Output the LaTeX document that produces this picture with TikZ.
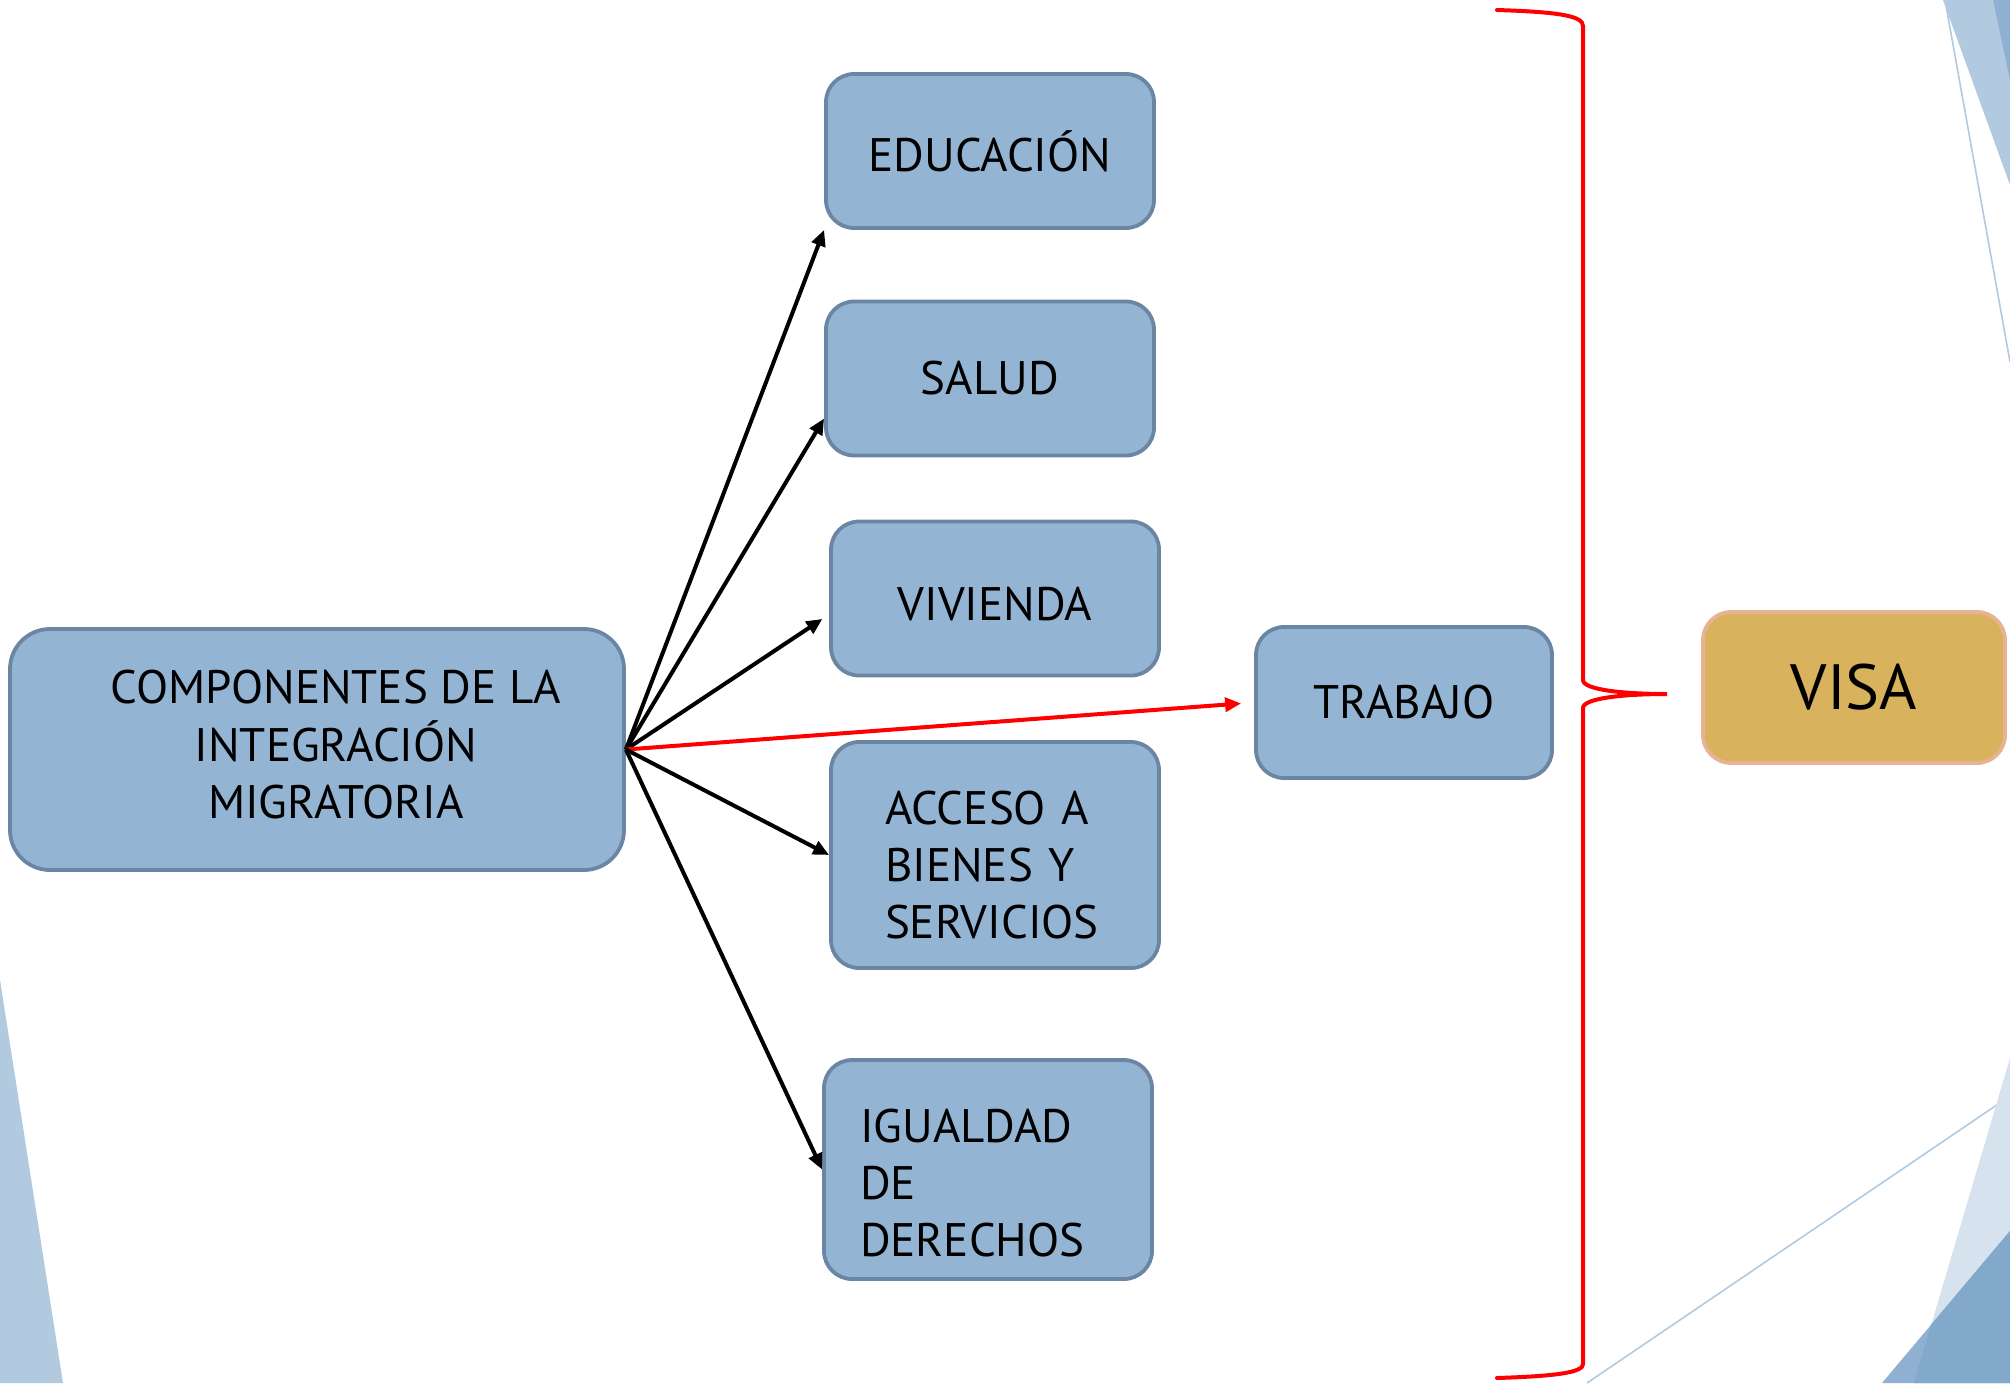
\documentclass[tikz,border=0pt]{standalone}
\usepackage{fontspec}
\setmainfont{PT Sans}
\usetikzlibrary{arrows.meta}
\definecolor{cajafondo}{HTML}{94B4D4}
\definecolor{cajaborde}{HTML}{6B86A2}
\definecolor{visafondo}{HTML}{D8B25C}
\definecolor{visaborde}{HTML}{E8B394}
\definecolor{fondoclaro}{HTML}{B1CAE0}
\definecolor{fondomedio}{HTML}{8FB0D0}
\definecolor{fondooscuro}{HTML}{82A8CA}
\definecolor{fondopalido}{HTML}{D6E3EF}
\tikzset{caja/.style={
    draw=cajaborde, fill=cajafondo,
    line width=1.9pt, rounded corners=14pt,
    minimum width=164pt, minimum height=77pt,
    font=\fontsize{23.5}{28.5}\selectfont},
  flecha/.style={
    line width=2pt,
    -{Triangle[length=8pt,width=7pt]}}}

\begin{document}
\begin{tikzpicture}[x=0.5pt,y=-0.5pt]
\useasboundingbox (0,0) rectangle (2010,1383);
% fondo
\fill[fondoclaro] (0,980) -- (63,1383) -- (0,1383) -- cycle;
\fill[fondoclaro] (1943,0) -- (2010,0) -- (2010,185) -- cycle;
\fill[fondomedio] (1993,0) -- (2010,0) -- (2010,80) -- cycle;
\draw[fondoclaro, line width=0.8pt] (1945,0) -- (2010,362);
\draw[fondoclaro, line width=0.8pt] (1587,1383) -- (2010,1096);
\fill[fondopalido] (1914,1383) -- (2010,1058) -- (2010,1383) -- cycle;
\fill[fondomedio] (1882,1383) -- (2010,1231) -- (2010,1383) -- cycle;
\begin{scope}
  \clip (1914,1383) -- (2010,1058) -- (2010,1383) -- cycle;
  \fill[fondooscuro] (1882,1383) -- (2010,1231) -- (2010,1383) -- cycle;
\end{scope}

% cajas
\node[caja, minimum width=307pt, minimum height=120.5pt, rounded corners=20pt] (comp) at (317,749.5)
  {\hspace*{19pt}\begin{tabular}{@{}c@{}}COMPONENTES DE LA\\INTEGRACIÓN\\MIGRATORIA\rule[-6pt]{0pt}{0pt}\end{tabular}};
\node[caja] (edu) at (990,151) {EDUCACIÓN};
\node[caja] (sal) at (990,378.5) {SALUD};
\node[caja, text height=22pt] (viv) at (995,598.5) {VIVIENDA};
\node[caja, minimum height=113pt, text width=110pt, align=left] (acc) at (995,855) {\rule{0pt}{27pt}ACCESO A\\BIENES Y\\SERVICIOS};
\node[caja, minimum height=109.5pt, text width=128pt, align=left] (igu) at (988,1169.5) {\rule{0pt}{30pt}IGUALDAD\\DE\\DERECHOS};
\node[caja, minimum width=148pt, minimum height=75.5pt] (trab) at (1404,702.5) {TRABAJO};
\node[caja, draw=visaborde, fill=visafondo, minimum width=151pt, minimum height=75.5pt, font=\fontsize{32}{38}\selectfont] (visa) at (1854,687.5) {VISA};

% flechas
\draw[flecha] (comp.east) -- (edu.south west);
\draw[flecha] (comp.east) -- ([yshift=-20pt]sal.west);
\draw[flecha, shorten >=4pt] (comp.east) -- ([yshift=-8pt]viv.west);
\draw[flecha, red, shorten >=6.5pt] (comp.east) -- (trab.west);
\draw[flecha] (comp.east) -- (acc.west);
\draw[flecha] (comp.east) -- (igu.west);

% llave
\draw[red, line width=2pt, line cap=round] (1497,10) .. controls (1560,12) and (1583,16) .. (1583,26) -- (1583,680)
  .. controls (1583,690) and (1625,694) .. (1667,694)
  .. controls (1625,694) and (1583,698) .. (1583,708) -- (1583,1364)
  .. controls (1583,1372) and (1560,1376) .. (1497,1378);
\end{tikzpicture}
\end{document}
